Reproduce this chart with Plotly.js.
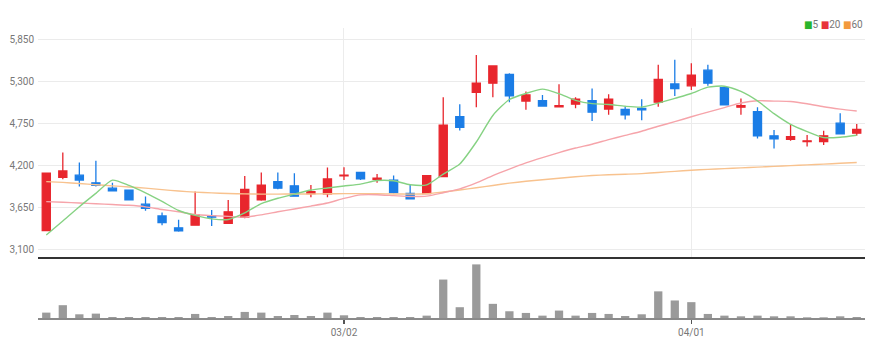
<!DOCTYPE html>
<html>
<head>
<meta charset="utf-8">
<script src="https://cdn.plot.ly/plotly-3.0.1.min.js"></script>
<style>
html,body{margin:0;padding:0;background:#fff;}
#chart{width:882px;height:357px;}
</style>
</head>
<body>
<div id="chart"></div>
<script>
// Trading dates (category labels)
var dates = ["2022-02-03","2022-02-04","2022-02-07","2022-02-08","2022-02-09","2022-02-10","2022-02-11","2022-02-14","2022-02-15","2022-02-16",
"2022-02-17","2022-02-18","2022-02-21","2022-02-22","2022-02-23","2022-02-24","2022-02-25","2022-02-28","2022-03-02","2022-03-03",
"2022-03-04","2022-03-07","2022-03-08","2022-03-10","2022-03-11","2022-03-14","2022-03-15","2022-03-16","2022-03-17","2022-03-18",
"2022-03-21","2022-03-22","2022-03-23","2022-03-24","2022-03-25","2022-03-28","2022-03-29","2022-03-30","2022-03-31","2022-04-01",
"2022-04-04","2022-04-05","2022-04-06","2022-04-07","2022-04-08","2022-04-11","2022-04-12","2022-04-13","2022-04-14","2022-04-15"];

var openP  = [3355,4050,4080,3980,3910,3885,3700,3545,3390,3425,3545,3450,3530,3755,3995,3940,3840,3835,4070,4115,
              4025,4015,3840,3840,4060,4845,5165,5285,5400,5050,5055,4975,5010,5055,4945,4940,4955,5035,5275,5250,
              5455,5225,4970,4910,4595,4550,4520,4520,4760,4630];
var highP  = [4105,4375,4245,4270,3980,3890,3800,3590,3495,3865,3625,3755,4070,4115,4115,4105,3950,4180,4185,4125,
              4095,4075,3950,4075,5100,5010,5655,5510,5415,5175,5130,5270,5100,5215,5140,4975,5075,5525,5590,5545,
              5525,5225,5085,4970,4670,4745,4605,4660,4890,4750];
var lowP   = [3355,4025,3930,3930,3865,3750,3615,3425,3340,3425,3415,3440,3515,3745,3895,3805,3790,3790,4015,4015,
              3980,3840,3760,3840,4060,4665,4970,5100,5035,4935,4985,4975,4955,4790,4870,4810,4800,4975,5115,5195,
              5250,5000,4870,4560,4430,4530,4455,4475,4620,4595];
var closeP = [4105,4135,4015,3945,3875,3755,3645,3460,3350,3560,3530,3600,3895,3950,3910,3805,3865,4030,4080,4030,
              4040,3850,3770,4075,4735,4705,5285,5510,5120,5130,4985,4990,5075,4905,5075,4870,4935,5335,5215,5390,
              5285,5000,4990,4595,4555,4585,4530,4595,4620,4680];

var ma5  = [3296,3480,3667,3842,4015,3945,3848,3736,3617,3553,3508,3499,3586,3707,3777,3832,3885,3912,3938,3963,
            4009,4006,3954,3952,4094,4227,4514,4862,5071,5150,5206,5147,5060,5016,5006,4982,4971,5023,5086,5149,
            5232,5245,5176,5052,4885,4745,4651,4572,4576,4602];
var ma20 = [3733,3725,3715,3705,3695,3685,3665,3630,3600,3565,3550,3540,3530,3560,3600,3637,3675,3715,3775,3822,
            3824,3812,3800,3805,3850,3900,3978,4075,4160,4240,4310,4375,4435,4485,4545,4600,4655,4720,4780,4845,
            4905,4965,5025,5055,5050,5045,5015,4975,4945,4920];
var ma60 = [3995,3985,3970,3955,3940,3925,3910,3890,3872,3858,3848,3840,3835,3832,3832,3833,3834,3836,3838,3838,
            3836,3834,3832,3836,3860,3885,3915,3945,3975,4000,4020,4040,4060,4075,4085,4092,4100,4115,4130,4145,
            4155,4165,4175,4185,4195,4205,4215,4225,4235,4245];

var volume = [160,380,110,130,30,30,30,30,30,120,30,60,180,160,60,90,60,160,80,30,
              30,30,30,70,1140,320,1590,420,200,150,70,220,70,150,120,60,110,790,520,470,
              120,70,50,70,50,50,20,20,50,30];

var yTicks = [3100,3650,4200,4750,5300,5850];
var yTickText = ["3,100","3,650","4,200","4,750","5,300","5,850"];
var xTicks = ["2022-03-02","2022-04-01"];
var xTickText = ["03/02","04/01"];

var FONT = "'Liberation Sans Narrow', 'Roboto', 'DejaVu Sans Condensed', sans-serif";

var traces = [
  {type:'scatter', mode:'lines', x:dates, y:ma60, xaxis:'x', yaxis:'y',
   line:{color:'#f8c28e', width:1.4, shape:'spline', smoothing:0.6}, hoverinfo:'skip', showlegend:false},
  {type:'scatter', mode:'lines', x:dates, y:ma20, xaxis:'x', yaxis:'y',
   line:{color:'#f6a4aa', width:1.4, shape:'spline', smoothing:0.6}, hoverinfo:'skip', showlegend:false},
  {type:'scatter', mode:'lines', x:dates, y:ma5, xaxis:'x', yaxis:'y',
   line:{color:'#86d283', width:1.4, shape:'spline', smoothing:0.6}, hoverinfo:'skip', showlegend:false},
  {type:'candlestick', x:dates, open:openP, high:highP, low:lowP, close:closeP,
   xaxis:'x', yaxis:'y', whiskerwidth:0,
   increasing:{line:{color:'#e8262d', width:1.3}, fillcolor:'#e8262d'},
   decreasing:{line:{color:'#1b7de6', width:1.3}, fillcolor:'#1b7de6'},
   hoverinfo:'skip', showlegend:false},
  {type:'bar', x:dates, y:volume, xaxis:'x2', yaxis:'y2',
   marker:{color:'#9a9a9a'}, width:0.5, hoverinfo:'skip', showlegend:false}
];

var layout = {
  width:882, height:357,
  margin:{l:38, r:17, t:28, b:39, pad:0},
  paper_bgcolor:'#ffffff', plot_bgcolor:'#ffffff',
  showlegend:false,
  font:{family:FONT, size:10, color:'#777'},
  xaxis:{type:'category', domain:[0,1], anchor:'y', range:[-0.5,49.5],
    tickvals:xTicks, showticklabels:false, ticks:'',
    showgrid:true, gridcolor:'#ececec', gridwidth:1,
    showline:true, linecolor:'#333333', linewidth:2,
    rangeslider:{visible:false}, fixedrange:true},
  yaxis:{domain:[0.2103,1], anchor:'x', range:[3008,6007],
    tickvals:yTicks, ticktext:yTickText, ticks:'', ticklabelstandoff:3,
    showgrid:true, gridcolor:'#ebebeb', gridwidth:1, zeroline:false, showline:false,
    tickfont:{family:FONT, size:10, color:'#777'}, fixedrange:true},
  xaxis2:{type:'category', domain:[0,1], anchor:'y2', range:[-0.5,49.5],
    tickvals:xTicks, ticktext:xTickText, ticks:'outside', ticklen:4, tickwidth:1.5, tickcolor:'#555',
    showgrid:false, showline:true, linecolor:'#8a8a8a', linewidth:2,
    tickfont:{family:FONT, size:10, color:'#777'}, fixedrange:true},
  yaxis2:{domain:[0,0.193], anchor:'x2', range:[0,1660],
    showticklabels:false, showgrid:false, zeroline:false, showline:false, ticks:'', fixedrange:true},
  annotations:[
    {xref:'paper', yref:'paper', x:1, y:1.012, xanchor:'right', yanchor:'middle', showarrow:false,
     text:'<span style="color:#2bb52b">■</span>5 <span style="color:#e8333a">■</span>20 <span style="color:#f39a3c">■</span>60',
     font:{family:FONT, size:10, color:'#777'}}
  ]
};

Plotly.newPlot('chart', traces, layout, {displayModeBar:false, staticPlot:true});
</script>
</body>
</html>
